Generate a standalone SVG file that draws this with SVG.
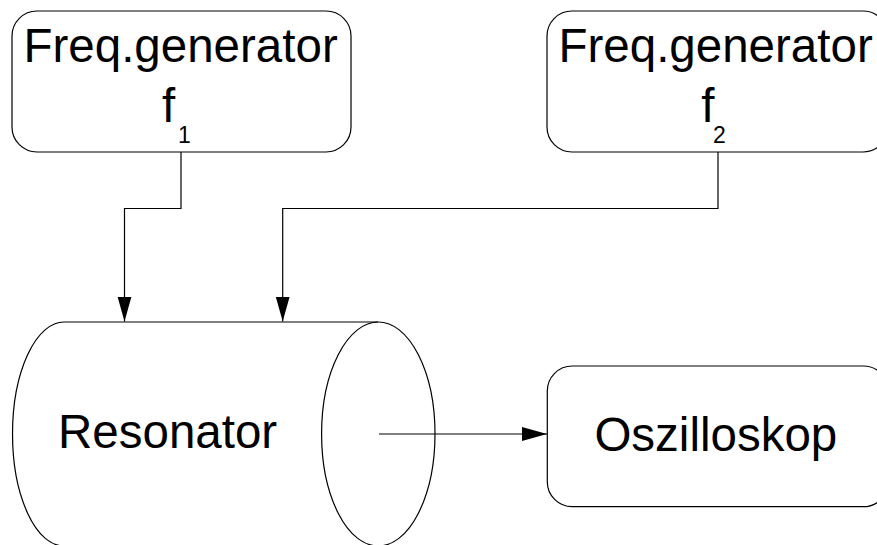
<svg xmlns="http://www.w3.org/2000/svg" width="877" height="545" viewBox="0 0 877 545">
  <style>
    .box { fill: #ffffff; stroke: #000000; stroke-width: 1.2; }
    .shape { fill: none; stroke: #000000; stroke-width: 1.2; }
    .wire { fill: none; stroke: #000000; stroke-width: 1.2; }
    .label { font-family: "Liberation Sans", Arial, Helvetica, sans-serif; font-size: 47.5px; fill: #000000; }
    .sub { font-family: "Liberation Sans", Arial, Helvetica, sans-serif; font-size: 23px; fill: #000000; }
  </style>
  <defs>
    <marker id="arrow" markerUnits="userSpaceOnUse" markerWidth="26" markerHeight="16" refX="25" refY="7" orient="auto">
      <path d="M0,0 L25,7 L0,14 Z" fill="#000000"/>
    </marker>
  </defs>
  <rect width="877" height="545" fill="#ffffff"/>

  <!-- generator f1 -->
  <g id="gen1">
    <rect class="box" x="12" y="11" width="339" height="141" rx="25" ry="25"/>
    <text class="label" x="23.5" y="62">Freq.generator</text>
    <text class="label" x="162" y="122.3">f</text>
    <text class="sub" x="178" y="143.3">1</text>
  </g>

  <!-- generator f2 -->
  <g id="gen2">
    <rect class="box" x="547" y="11" width="341" height="141" rx="25" ry="25"/>
    <text class="label" x="558.5" y="62">Freq.generator</text>
    <text class="label" x="701.3" y="122.3">f</text>
    <text class="sub" x="713" y="143.3">2</text>
  </g>

  <!-- resonator cylinder -->
  <g id="resonator">
    <path class="shape" d="M64,322 L378,322 M64,322 A51.5,112 0 0 0 64,546 M64,546 L378,546"/>
    <ellipse class="shape" cx="378.3" cy="434" rx="56.7" ry="112"/>
    <text class="label" x="58" y="448.3">Resonator</text>
  </g>

  <!-- oscilloscope -->
  <g id="oszilloskop">
    <rect class="box" x="547.3" y="366" width="341" height="140.7" rx="25" ry="25"/>
    <text class="label" x="594.4" y="451">Oszilloskop</text>
  </g>

  <!-- connectors -->
  <g id="connectors">
    <path class="wire" d="M181,152 L181,208.5 L124.5,208.5 L124.5,321.5" marker-end="url(#arrow)"/>
    <path class="wire" d="M718,152 L718,208.5 L282.7,208.5 L282.7,321.5" marker-end="url(#arrow)"/>
    <path class="wire" d="M379,434 L547,434" marker-end="url(#arrow)"/>
  </g>
</svg>
